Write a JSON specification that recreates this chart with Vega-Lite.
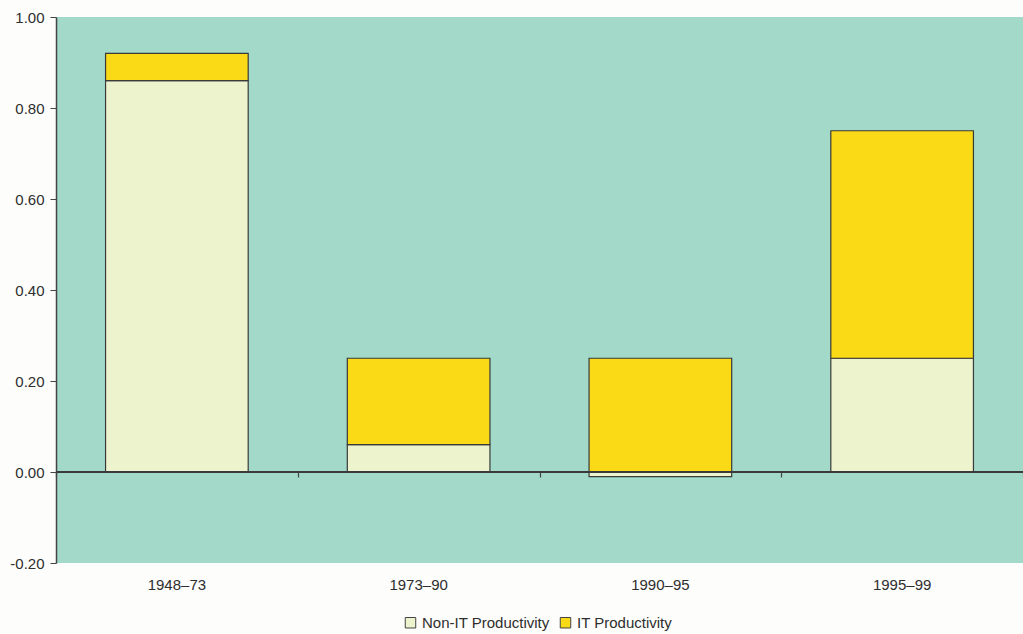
{
  "$schema": "https://vega.github.io/schema/vega-lite/v6.json",
  "width": 967,
  "height": 546,
  "autosize": {"type": "none"},
  "padding": {"left": 56, "top": 17, "right": 0, "bottom": 71},
  "background": "#fdfdfb",
  "config": {
    "view": {"fill": "#a2d9c9", "stroke": null},
    "font": "Liberation Sans",
    "axis": {"labelFont": "Liberation Sans", "labelColor": "#2e2e2e", "labelFontSize": 15, "grid": false},
    "legend": {"labelFont": "Liberation Sans", "labelColor": "#2e2e2e", "labelFontSize": 15}
  },
  "data": {
    "values": [
      {"period": "1948–73", "component": "Non-IT Productivity", "value": 0.86, "ord": 1},
      {"period": "1948–73", "component": "IT Productivity", "value": 0.06, "ord": 2},
      {"period": "1973–90", "component": "Non-IT Productivity", "value": 0.06, "ord": 1},
      {"period": "1973–90", "component": "IT Productivity", "value": 0.19, "ord": 2},
      {"period": "1990–95", "component": "Non-IT Productivity", "value": -0.01, "ord": 1},
      {"period": "1990–95", "component": "IT Productivity", "value": 0.25, "ord": 2},
      {"period": "1995–99", "component": "Non-IT Productivity", "value": 0.25, "ord": 1},
      {"period": "1995–99", "component": "IT Productivity", "value": 0.50, "ord": 2}
    ]
  },
  "resolve": {"axis": {"x": "independent"}, "scale": {"x": "independent"}},
  "layer": [
    {
      "mark": {"type": "bar", "stroke": "#3a3a3a", "strokeWidth": 1.2},
      "encoding": {
        "x": {
          "field": "period", "type": "nominal", "sort": null,
          "scale": {"type": "band", "paddingInner": 0.41, "paddingOuter": 0.205},
          "axis": {"title": null, "labelAngle": 0, "domain": false, "ticks": false, "labelPadding": 14}
        },
        "y": {
          "field": "value", "type": "quantitative", "stack": "zero",
          "scale": {"domain": [-0.2, 1.0], "nice": false, "zero": false},
          "axis": {"title": null, "values": [-0.2, 0, 0.2, 0.4, 0.6, 0.8, 1.0], "labelExpr": "replace(format(datum.value, '.2f'), '\u2212', '-')", "domainColor": "#444444", "domainWidth": 1.5, "tickColor": "#444444", "tickSize": 6, "labelPadding": 6}
        },
        "color": {
          "field": "component", "type": "nominal",
          "scale": {"domain": ["Non-IT Productivity", "IT Productivity"], "range": ["#edf3cd", "#fad916"]},
          "legend": {"title": null, "orient": "none", "legendX": 347, "legendY": 598, "direction": "horizontal", "symbolType": "square", "symbolStrokeColor": "#444444", "symbolStrokeWidth": 1, "symbolSize": 110, "labelPadding": 2, "columnPadding": 8}
        },
        "order": {"field": "ord", "type": "quantitative"}
      }
    },
    {
      "mark": {"type": "rule", "color": "#3a3a3a", "strokeWidth": 1.2},
      "encoding": {"y": {"datum": 0}}
    },
    {
      "mark": {"type": "bar", "opacity": 0},
      "encoding": {
        "x": {
          "field": "period", "type": "nominal", "sort": null,
          "scale": {"type": "band", "paddingInner": 0, "paddingOuter": 0},
          "axis": {"title": null, "orient": "bottom", "offset": -91, "labels": false, "domain": false, "ticks": true, "tickBand": "extent", "tickColor": "#444444", "tickSize": 5, "tickWidth": 1.2}
        },
        "y": {"datum": 0}
      }
    }
  ]
}
